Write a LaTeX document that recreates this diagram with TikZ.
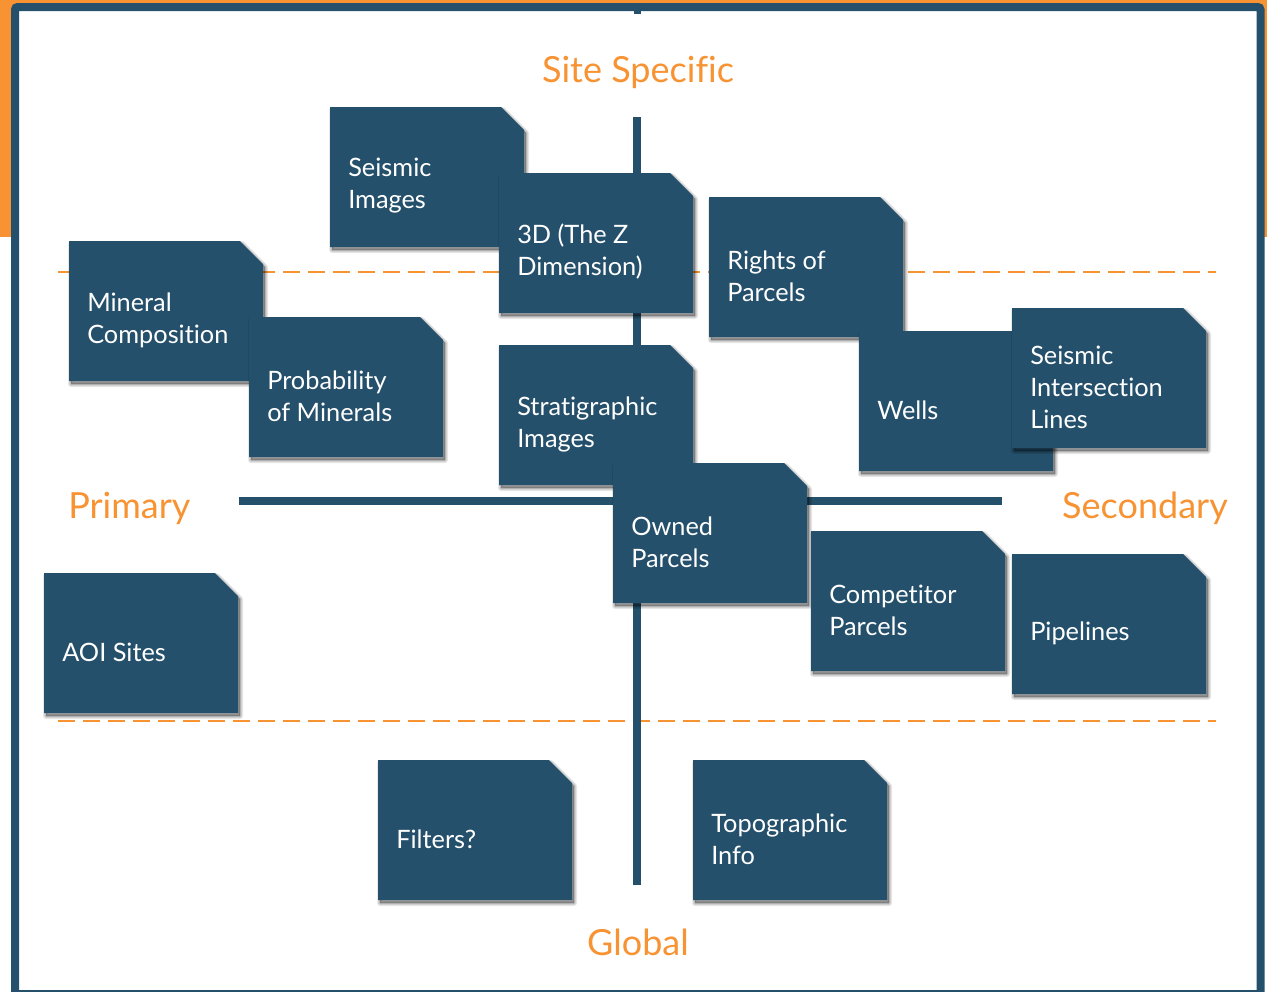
\documentclass[tikz,border=0pt]{standalone}
\usepackage{fontspec}
\setmainfont{Lato}[Ligatures={NoCommon}]
\definecolor{navy}{HTML}{25506B}
\definecolor{accent}{HTML}{F79332}
\tikzset{
  card/.style={fill=navy},
  cardshade/.style={fill=black, draw=black, fill opacity=0.09, draw opacity=0.09,
      line join=round},
  cardtext/.style={anchor=west, text=white, align=left,
      font=\fontsize{19}{24}\selectfont, inner sep=0pt},
  axislabel/.style={text=accent, font=\fontsize{27}{32}\selectfont, inner sep=0pt},
  axisline/.style={draw=navy, line width=5.4pt},
  band/.style={draw=accent, line width=1.8pt, dash pattern=on 12.75pt off 6pt},
}
% outline of a card with a clipped top-right corner, top-left at (#1,#2)
\newcommand{\cardoutline}[2]{(#1,#2) -- ++(171,0) -- ++(23,23) -- ++(0,117) -- ++(-194,0) -- cycle}
% #1,#2: top-left corner (px); #3: node name; #4: text
\newcommand{\notecard}[4]{%
  \foreach \w in {4.5,3,1.5,0.2}{%
    \path[cardshade, line width=\w pt] \cardoutline{#1+2}{#2+3};
  }%
  \path[card] \cardoutline{#1}{#2};
  \node[cardtext] (#3) at (#1+18,#2+79) {#4};
}
\begin{document}
\begin{tikzpicture}[x=0.75pt, y=-0.75pt]
  \useasboundingbox (0,0) rectangle (1267,992);
  \clip (0,0) rectangle (1267,992);
  % page background and frame
  \fill[accent] (0,0) rectangle (1267,237);
  \fill[white] (15,7) rectangle (1260.5,994);
  \draw[navy, line width=6pt, rounded corners=2pt] (15,7) rectangle (1260.5,994);
  \fill[navy] (634,11) rectangle (641,13.5);

  % band boundaries
  \coordinate (bandTopL) at (58,272);
  \coordinate (bandTopR) at (1216,272);
  \coordinate (bandBotL) at (58,721);
  \coordinate (bandBotR) at (1216,721);
  \draw[band] (bandTopL) -- (bandTopR);
  \draw[band] (bandBotL) -- (bandBotR);

  % axes
  \coordinate (axTop) at (637,117);
  \coordinate (axBot) at (637,885);
  \coordinate (axLeft) at (239,501);
  \coordinate (axRight) at (1002,501);
  \draw[axisline] (axTop) -- (axBot);
  \draw[axisline] (axLeft) -- (axRight);

  % axis labels
  \node[axislabel, anchor=base] (site) at (638,82) {Site Specific};
  \node[axislabel, anchor=base west] (primary) at (68,518) {Primary};
  \node[axislabel, anchor=base east] (secondary) at (1228,518) {Secondary};
  \node[axislabel, anchor=base] (global) at (638,955) {Global};

  % cards
  \notecard{330}{107}{seismic}{Seismic\\Images}
  \notecard{499}{173}{zdim}{3D (The Z\\Dimension)}
  \notecard{709}{197}{rights}{Rights of\\Parcels}
  \notecard{859}{331}{wells}{Wells}
  \notecard{1012}{308}{sil}{Seismic\\Intersection\\Lines}
  \notecard{69}{241}{mineral}{Mineral\\Composition}
  \notecard{249}{317}{prob}{Probability\\of Minerals}
  \notecard{499}{345}{strat}{Stratigraphic\\Images}
  \notecard{613}{463}{owned}{Owned\\Parcels}
  \notecard{811}{531}{comp}{Competitor\\Parcels}
  \notecard{1012}{554}{pipe}{Pipelines}
  \notecard{44}{573}{aoi}{AOI Sites}
  \notecard{378}{760}{filters}{Filters?}
  \notecard{693}{760}{topo}{Topographic\\Info}
\end{tikzpicture}
\end{document}
